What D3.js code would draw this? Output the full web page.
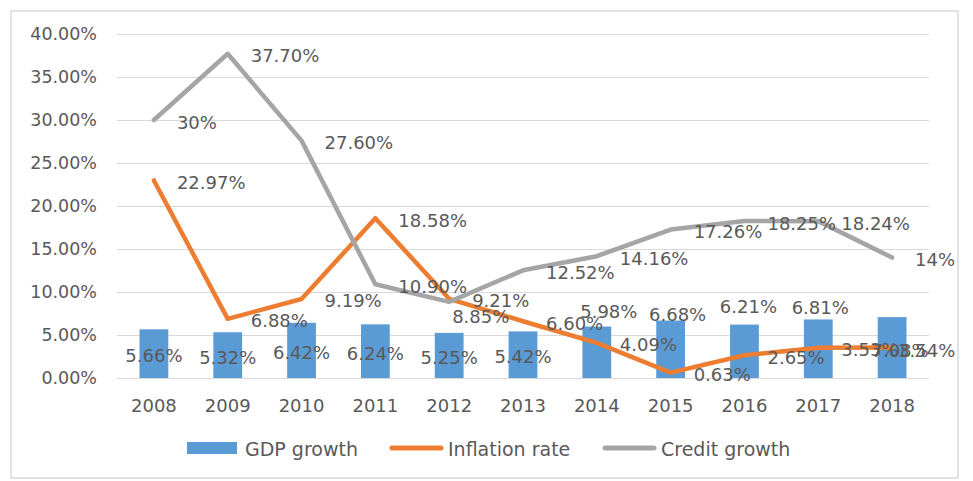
<!DOCTYPE html>
<html>
<head>
<meta charset="utf-8">
<script src="https://cdn.jsdelivr.net/npm/d3@7"></script>
<style>
  html, body { margin: 0; padding: 0; background: #ffffff; }
  svg { display: block; }
  text { font-family: "DejaVu Sans", Verdana, sans-serif; fill: #595959; }
</style>
</head>
<body>
<svg id="chart" width="973" height="481"></svg>
<script>
// ---- data (values in percent) ----
const years = ["2008","2009","2010","2011","2012","2013","2014","2015","2016","2017","2018"];
const gdpGrowth = [5.66, 5.32, 6.42, 6.24, 5.25, 5.42, 5.98, 6.68, 6.21, 6.81, 7.08];
const inflationRate = [22.97, 6.88, 9.19, 18.58, 9.21, 6.60, 4.09, 0.63, 2.65, 3.53, 3.54];
const creditGrowth = [30, 37.70, 27.60, 10.90, 8.85, 12.52, 14.16, 17.26, 18.25, 18.24, 14];
const gdpLabels = ["5.66%","5.32%","6.42%","6.24%","5.25%","5.42%","5.98%","6.68%","6.21%","6.81%","7.08%"];
const inflationLabels = ["22.97%","6.88%","9.19%","18.58%","9.21%","6.60%","4.09%","0.63%","2.65%","3.53%","3.54%"];
const creditLabels = ["30%","37.70%","27.60%","10.90%","8.85%","12.52%","14.16%","17.26%","18.25%","18.24%","14%"];
const yTicks = [0, 5, 10, 15, 20, 25, 30, 35, 40];
const seriesNames = ["GDP growth", "Inflation rate", "Credit growth"];

// manual label nudges (as in the reference, some labels were dragged)
const gdpLabelNudge = [[0,0],[0,0],[0,0],[0,0],[0,0],[0,0],[12,-43],[7,-37],[4,-47],[2,-43],[8,1]];
const inflationLabelNudge = [[0,0],[0,0],[0,0],[0,0],[0,0],[0,0],[0,0],[0,0],[0,0],[0,0],[-17,1]];
const creditLabelNudge = [[0,0],[0,0],[0,0],[0,0],[-20,13],[0,0],[0,0],[0,0],[0,0],[0,0],[0,0]];

// ---- layout ----
const colors = { gdp: "#5b9bd5", infl: "#ed7d31", credit: "#a5a5a5", grid: "#d9d9d9", text: "#595959" };
const plot = { left: 117, right: 929, top: 34, bottom: 378 };
const svg = d3.select("#chart");

// outer border
svg.append("rect")
  .attr("x", 11).attr("y", 11).attr("width", 947).attr("height", 467)
  .attr("fill", "#fff").attr("stroke", "#d9d9d9").attr("stroke-width", 1.5);

const x = d3.scaleBand().domain(years).range([plot.left, plot.right]).padding(0);
const y = d3.scaleLinear().domain([0, 40]).range([plot.bottom, plot.top]);
const cx = d => x(d) + x.bandwidth() / 2;
const barW = x.bandwidth() * 0.39;

// gridlines
svg.append("g").selectAll("line").data(yTicks).join("line")
  .attr("x1", plot.left).attr("x2", plot.right)
  .attr("y1", d => Math.round(y(d)) + 0.5).attr("y2", d => Math.round(y(d)) + 0.5)
  .attr("stroke", colors.grid).attr("stroke-width", 1);

// y axis labels
const yAxis = d3.axisLeft(y).tickValues(yTicks).tickSize(0).tickPadding(20)
  .tickFormat(d => d3.format(".2f")(d) + "%");
const ya = svg.append("g").attr("transform", `translate(${plot.left},0)`).call(yAxis);
ya.select(".domain").remove();
ya.selectAll("text").attr("font-size", 17.5).attr("fill", colors.text)
  .attr("font-family", "DejaVu Sans, sans-serif");

// x axis labels
const xAxis = d3.axisBottom(x).tickSize(0).tickPadding(21);
const xa = svg.append("g").attr("transform", `translate(0,${plot.bottom})`).call(xAxis);
xa.select(".domain").remove();
xa.selectAll("text").attr("font-size", 18).attr("fill", colors.text)
  .attr("font-family", "DejaVu Sans, sans-serif");

// bars
svg.append("g").selectAll("rect").data(years).join("rect")
  .attr("x", d => cx(d) - barW / 2)
  .attr("width", barW)
  .attr("y", (d, i) => y(gdpGrowth[i]))
  .attr("height", (d, i) => y(0) - y(gdpGrowth[i]))
  .attr("fill", colors.gdp);

// lines
const line = d3.line().x(d => cx(d[0])).y(d => y(d[1]));
svg.append("path")
  .datum(years.map((yr, i) => [yr, inflationRate[i]]))
  .attr("d", line).attr("fill", "none").attr("stroke", colors.infl)
  .attr("stroke-width", 4.5).attr("stroke-linejoin", "round").attr("stroke-linecap", "round");
svg.append("path")
  .datum(years.map((yr, i) => [yr, creditGrowth[i]]))
  .attr("d", line).attr("fill", "none").attr("stroke", colors.credit)
  .attr("stroke-width", 4.5).attr("stroke-linejoin", "round").attr("stroke-linecap", "round");

// data labels
const lbl = svg.append("g").attr("font-size", 18).attr("fill", colors.text);
lbl.selectAll("text.gdp").data(years).join("text").attr("class", "gdp")
  .attr("x", (d, i) => cx(d) + gdpLabelNudge[i][0])
  .attr("y", (d, i) => (y(0) + y(gdpGrowth[i])) / 2 + 2 + gdpLabelNudge[i][1])
  .attr("text-anchor", "middle").attr("dominant-baseline", "central")
  .text((d, i) => gdpLabels[i]);
lbl.selectAll("text.infl").data(years).join("text").attr("class", "infl")
  .attr("x", (d, i) => cx(d) + 23 + inflationLabelNudge[i][0])
  .attr("y", (d, i) => y(inflationRate[i]) + 2 + inflationLabelNudge[i][1])
  .attr("dominant-baseline", "central")
  .text((d, i) => inflationLabels[i]);
lbl.selectAll("text.credit").data(years).join("text").attr("class", "credit")
  .attr("x", (d, i) => cx(d) + 23 + creditLabelNudge[i][0])
  .attr("y", (d, i) => y(creditGrowth[i]) + 2 + creditLabelNudge[i][1])
  .attr("dominant-baseline", "central")
  .text((d, i) => creditLabels[i]);

// legend
const legend = svg.append("g").attr("transform", "translate(0,448)");
const legItems = [
  { name: seriesNames[0], type: "bar", color: colors.gdp, x: 187 },
  { name: seriesNames[1], type: "line", color: colors.infl, x: 390 },
  { name: seriesNames[2], type: "line", color: colors.credit, x: 603 }
];
legItems.forEach(it => {
  if (it.type === "bar") {
    legend.append("rect").attr("x", it.x).attr("y", -6).attr("width", 50).attr("height", 12).attr("fill", it.color);
  } else {
    legend.append("line").attr("x1", it.x + 2).attr("x2", it.x + 51).attr("y1", 0).attr("y2", 0)
      .attr("stroke", it.color).attr("stroke-width", 5).attr("stroke-linecap", "round");
  }
  legend.append("text").attr("x", it.x + 58).attr("y", 1)
    .attr("dominant-baseline", "central")
    .attr("font-family", "Lato, sans-serif").attr("font-size", 19).attr("fill", colors.text)
    .text(it.name);
});
</script>
</body>
</html>
